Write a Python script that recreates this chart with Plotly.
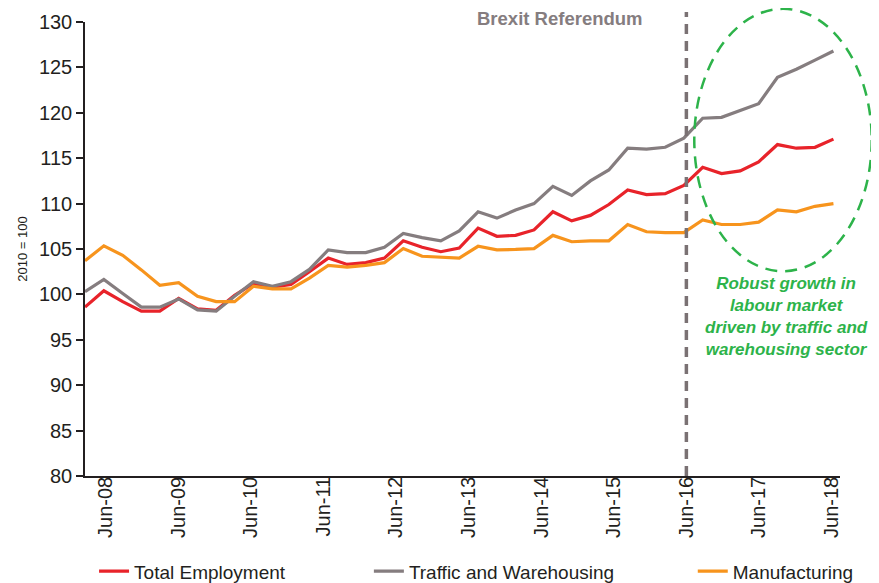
import numpy as np
import pandas as pd
import plotly.graph_objects as go

# ---------------- data (quarterly, index 2010 = 100) ----------------
quarters = pd.date_range("2008-03-01", periods=41, freq="3MS")

total_employment = [
    98.6, 100.4, 99.2, 98.15, 98.15, 99.55, 98.4, 98.25, 99.9, 101.2,
    100.8, 101.1, 102.5, 104.0, 103.3, 103.5, 104.0, 105.9, 105.2, 104.7,
    105.1, 107.3, 106.4, 106.5, 107.1, 109.1, 108.1, 108.7, 109.9, 111.5,
    111.0, 111.1, 112.0, 114.0, 113.3, 113.6, 114.6, 116.5, 116.1, 116.2,
    117.1,
]
traffic_warehousing = [
    100.3, 101.65, 100.1, 98.6, 98.6, 99.5, 98.3, 98.15, 99.8, 101.4,
    100.9, 101.4, 102.75, 104.9, 104.6, 104.6, 105.2, 106.7, 106.25, 105.9,
    107.0, 109.1, 108.4, 109.3, 110.0, 111.9, 110.9, 112.5, 113.7, 116.1,
    116.0, 116.2, 117.2, 119.4, 119.5, 120.3, 121.0, 123.9, 124.8, 125.8,
    126.8,
]
manufacturing = [
    103.7, 105.35, 104.3, 102.7, 101.0, 101.3, 99.8, 99.2, 99.2, 100.9,
    100.6, 100.6, 101.8, 103.2, 103.0, 103.2, 103.5, 105.05, 104.2, 104.1,
    104.0, 105.3, 104.9, 104.95, 105.05, 106.5, 105.8, 105.9, 105.9, 107.7,
    106.9, 106.8, 106.8, 108.2, 107.7, 107.7, 107.95, 109.3, 109.1, 109.7,
    110.0,
]
series_names = ["Total Employment", "Traffic and Warehousing", "Manufacturing"]
tick_labels = ["Jun-08", "Jun-09", "Jun-10", "Jun-11", "Jun-12", "Jun-13",
               "Jun-14", "Jun-15", "Jun-16", "Jun-17", "Jun-18"]
event_label = "Brexit Referendum"
event_tick = "Jun-16"
note_lines = ["Robust growth in", "labour market",
              "driven by traffic and", "warehousing sector"]
y_title = "2010 = 100"

# ---------------- styling ----------------
colors = ["#E8232A", "#857D7F", "#F7941D"]
green = "#2DB34A"
font_family = "Liberation Sans, Arial, sans-serif"
legend_x = [0.012, 0.376, 0.805]

# tick label anchors spread evenly across the axis, as in the original
t0 = quarters[0] + pd.Timedelta(days=100)
t1 = quarters[0] + pd.Timedelta(days=3643)
tick_vals = pd.to_datetime(np.linspace(t0.value, t1.value, len(tick_labels)))
event_x = tick_vals[tick_labels.index(event_tick)]

fig = go.Figure()
legend_ids = ["legend", "legend2", "legend3"]
for name, vals, col, lid in zip(series_names,
                                [total_employment, traffic_warehousing, manufacturing],
                                colors, legend_ids):
    fig.add_trace(go.Scatter(x=quarters, y=vals, mode="lines", name=name,
                             legend=lid, line=dict(color=col, width=3.2)))

legend_common = dict(orientation="h", xanchor="left", y=-0.21,
                     yanchor="middle", font=dict(size=19),
                     bgcolor="rgba(0,0,0,0)")

fig.update_layout(
    width=879, height=583,
    margin=dict(l=77, r=47, t=14, b=115, autoexpand=False),
    paper_bgcolor="white", plot_bgcolor="white",
    font=dict(family=font_family, size=19, color="#231F20"),
    showlegend=True,
    legend=dict(x=legend_x[0], **legend_common),
    legend2=dict(x=legend_x[1], **legend_common),
    legend3=dict(x=legend_x[2], **legend_common),
)

fig.update_xaxes(
    type="date", automargin=False,
    range=[quarters[0], quarters[-1] + pd.Timedelta(days=32)],
    tickmode="array", tickvals=tick_vals, ticktext=tick_labels,
    tickangle=-90, ticks="", ticklabelstandoff=-9,
    showgrid=False, zeroline=False,
    showline=True, linecolor="#231F20", linewidth=1.5,
    tickfont=dict(size=20),
)
fig.update_yaxes(
    automargin=False,
    range=[80, 130], dtick=5, tick0=80,
    ticks="outside", ticklen=7, tickcolor="#231F20", tickwidth=1.5,
    showgrid=False, zeroline=False,
    showline=True, linecolor="#231F20", linewidth=1.5,
    tickfont=dict(size=20),
    title=dict(text=y_title, font=dict(size=13), standoff=8),
)

# Brexit referendum vertical dashed line
fig.add_shape(type="line", xref="x", yref="paper",
              x0=event_x, x1=event_x, y0=0, y1=1.022,
              line=dict(color="#7A7173", width=3.5, dash="10px,7px"))
fig.add_annotation(xref="paper", yref="paper", x=0.742, y=1.007,
                   xanchor="right", yanchor="middle", showarrow=False,
                   text="<b>" + event_label + "</b>",
                   font=dict(size=18.5, color="#857D7F"))

# green dashed ellipse and note
fig.add_shape(type="circle", xref="paper", yref="paper",
              x0=0.807, x1=1.042, y0=0.451, y1=1.029,
              line=dict(color=green, width=2.5, dash="12px,8px"))
fig.add_annotation(xref="paper", yref="paper", x=0.9285, y=0.352,
                   xanchor="center", yanchor="middle", showarrow=False,
                   align="center",
                   text="<b><i>" + "<br>".join(note_lines) + "</i></b>",
                   font=dict(size=17, color=green))

fig.write_html("out.html")
